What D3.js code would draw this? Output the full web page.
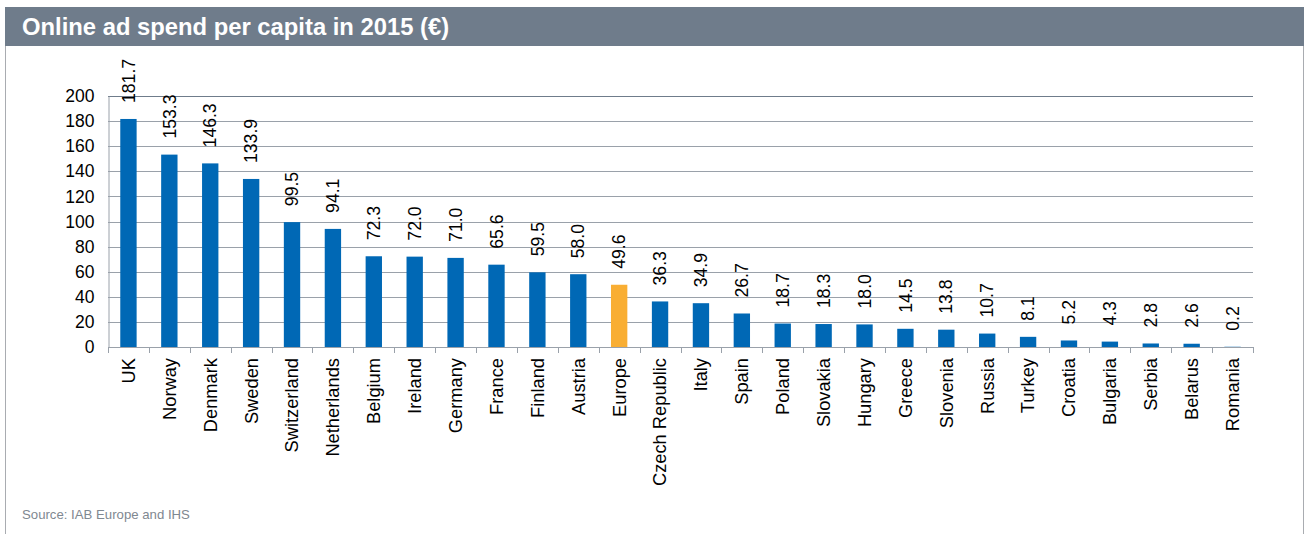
<!DOCTYPE html>
<html>
<head>
<meta charset="utf-8">
<script src="https://cdn.jsdelivr.net/npm/d3@7"></script>
<style>
  body { margin: 0; background: #fff; }
  svg { display: block; font-family: "Liberation Sans", Arial, sans-serif; }
</style>
</head>
<body>
<svg id="chart"></svg>
<script>
// values
const countries = ["UK", "Norway", "Denmark", "Sweden", "Switzerland", "Netherlands", "Belgium",
  "Ireland", "Germany", "France", "Finland", "Austria", "Europe", "Czech Republic", "Italy",
  "Spain", "Poland", "Slovakia", "Hungary", "Greece", "Slovenia", "Russia", "Turkey",
  "Croatia", "Bulgaria", "Serbia", "Belarus", "Romania"];
const spend = [181.7, 153.3, 146.3, 133.9, 99.5, 94.1, 72.3, 72.0, 71.0, 65.6, 59.5, 58.0,
  49.6, 36.3, 34.9, 26.7, 18.7, 18.3, 18.0, 14.5, 13.8, 10.7, 8.1, 5.2, 4.3, 2.8, 2.6, 0.2];
const yTicks = [0, 20, 40, 60, 80, 100, 120, 140, 160, 180, 200];
const highlight = "Europe";

const width = 1306;
const height = 534;

const svg = d3.select("#chart")
    .attr("width", width)
    .attr("height", height);

// outer box + header band
svg.append("rect")
    .attr("x", 5.5).attr("y", 7.5)
    .attr("width", 1298).attr("height", 540)
    .attr("fill", "none")
    .attr("stroke", "#a9acb1");

svg.append("rect")
    .attr("x", 5).attr("y", 7)
    .attr("width", 1299).attr("height", 39)
    .attr("fill", "#6f7c8b");

svg.append("text")
    .attr("x", 22).attr("y", 35)
    .attr("fill", "#fff")
    .attr("font-size", 23.8)
    .attr("font-weight", "bold")
    .text("Online ad spend per capita in 2015 (€)");

const margin = { left: 108, right: 1253, top: 96, bottom: 347 };

const x = d3.scaleBand()
    .domain(countries)
    .range([margin.left, margin.right])
    .paddingInner(0.6)
    .paddingOuter(0.3);

const y = d3.scaleLinear()
    .domain([0, 200])
    .range([margin.bottom, margin.top]);

// gridlines
svg.append("g")
    .selectAll("line")
    .data(yTicks.filter(d => d > 0))
    .join("line")
    .attr("x1", margin.left).attr("x2", margin.right)
    .attr("y1", d => Math.round(y(d)) + 0.5)
    .attr("y2", d => Math.round(y(d)) + 0.5)
    .attr("stroke", d => d === 200 ? "#6f7c8b" : "#9aa1aa")
    .attr("stroke-width", 1);

// y axis
const yAxis = svg.append("g")
    .attr("transform", `translate(${margin.left + 0.5},0)`)
    .call(d3.axisLeft(y).tickValues(yTicks).tickSize(0).tickPadding(14));
yAxis.select(".domain").attr("stroke", "#9aa1aa");
yAxis.selectAll("text")
    .attr("font-size", 17.5)
    .attr("fill", "#000")
    .attr("font-family", "Liberation Sans, Arial, sans-serif");

// bars
svg.append("g")
    .selectAll("rect")
    .data(countries)
    .join("rect")
    .attr("x", d => x(d))
    .attr("width", x.bandwidth())
    .attr("y", (d, i) => y(spend[i]))
    .attr("height", (d, i) => y(0) - y(spend[i]))
    .attr("fill", d => d === highlight ? "#f9ae33" : "#0068b5");

// x axis line + ticks between categories
const step = x.step();
const xAxisG = svg.append("g");
xAxisG.append("line")
    .attr("x1", margin.left).attr("x2", margin.right)
    .attr("y1", Math.round(y(0)) + 0.5).attr("y2", Math.round(y(0)) + 0.5)
    .attr("stroke", "#9aa1aa");
xAxisG.selectAll("line.tick")
    .data(d3.range(countries.length + 1))
    .join("line")
    .attr("class", "tick")
    .attr("x1", i => Math.round(margin.left + i * step) + 0.5)
    .attr("x2", i => Math.round(margin.left + i * step) + 0.5)
    .attr("y1", y(0))
    .attr("y2", y(0) + 6)
    .attr("stroke", "#9aa1aa");

// category labels (rotated)
svg.append("g")
    .selectAll("text")
    .data(countries)
    .join("text")
    .attr("transform", d => `translate(${x(d) + x.bandwidth() / 2},${y(0) + 11}) rotate(-90)`)
    .attr("text-anchor", "end")
    .attr("dy", "0.35em")
    .attr("font-size", 18.3)
    .attr("fill", "#000")
    .text(d => d);

// value labels (rotated)
svg.append("g")
    .selectAll("text")
    .data(countries)
    .join("text")
    .attr("transform", (d, i) => `translate(${x(d) + x.bandwidth() / 2},${y(spend[i]) - 16}) rotate(-90)`)
    .attr("text-anchor", "start")
    .attr("dy", "0.35em")
    .attr("font-size", 17.6)
    .attr("fill", "#000")
    .text((d, i) => spend[i].toFixed(1));

// source
svg.append("text")
    .attr("x", 22).attr("y", 519)
    .attr("font-size", 13.2)
    .attr("fill", "#7f8891")
    .text("Source: IAB Europe and IHS");
</script>
</body>
</html>
